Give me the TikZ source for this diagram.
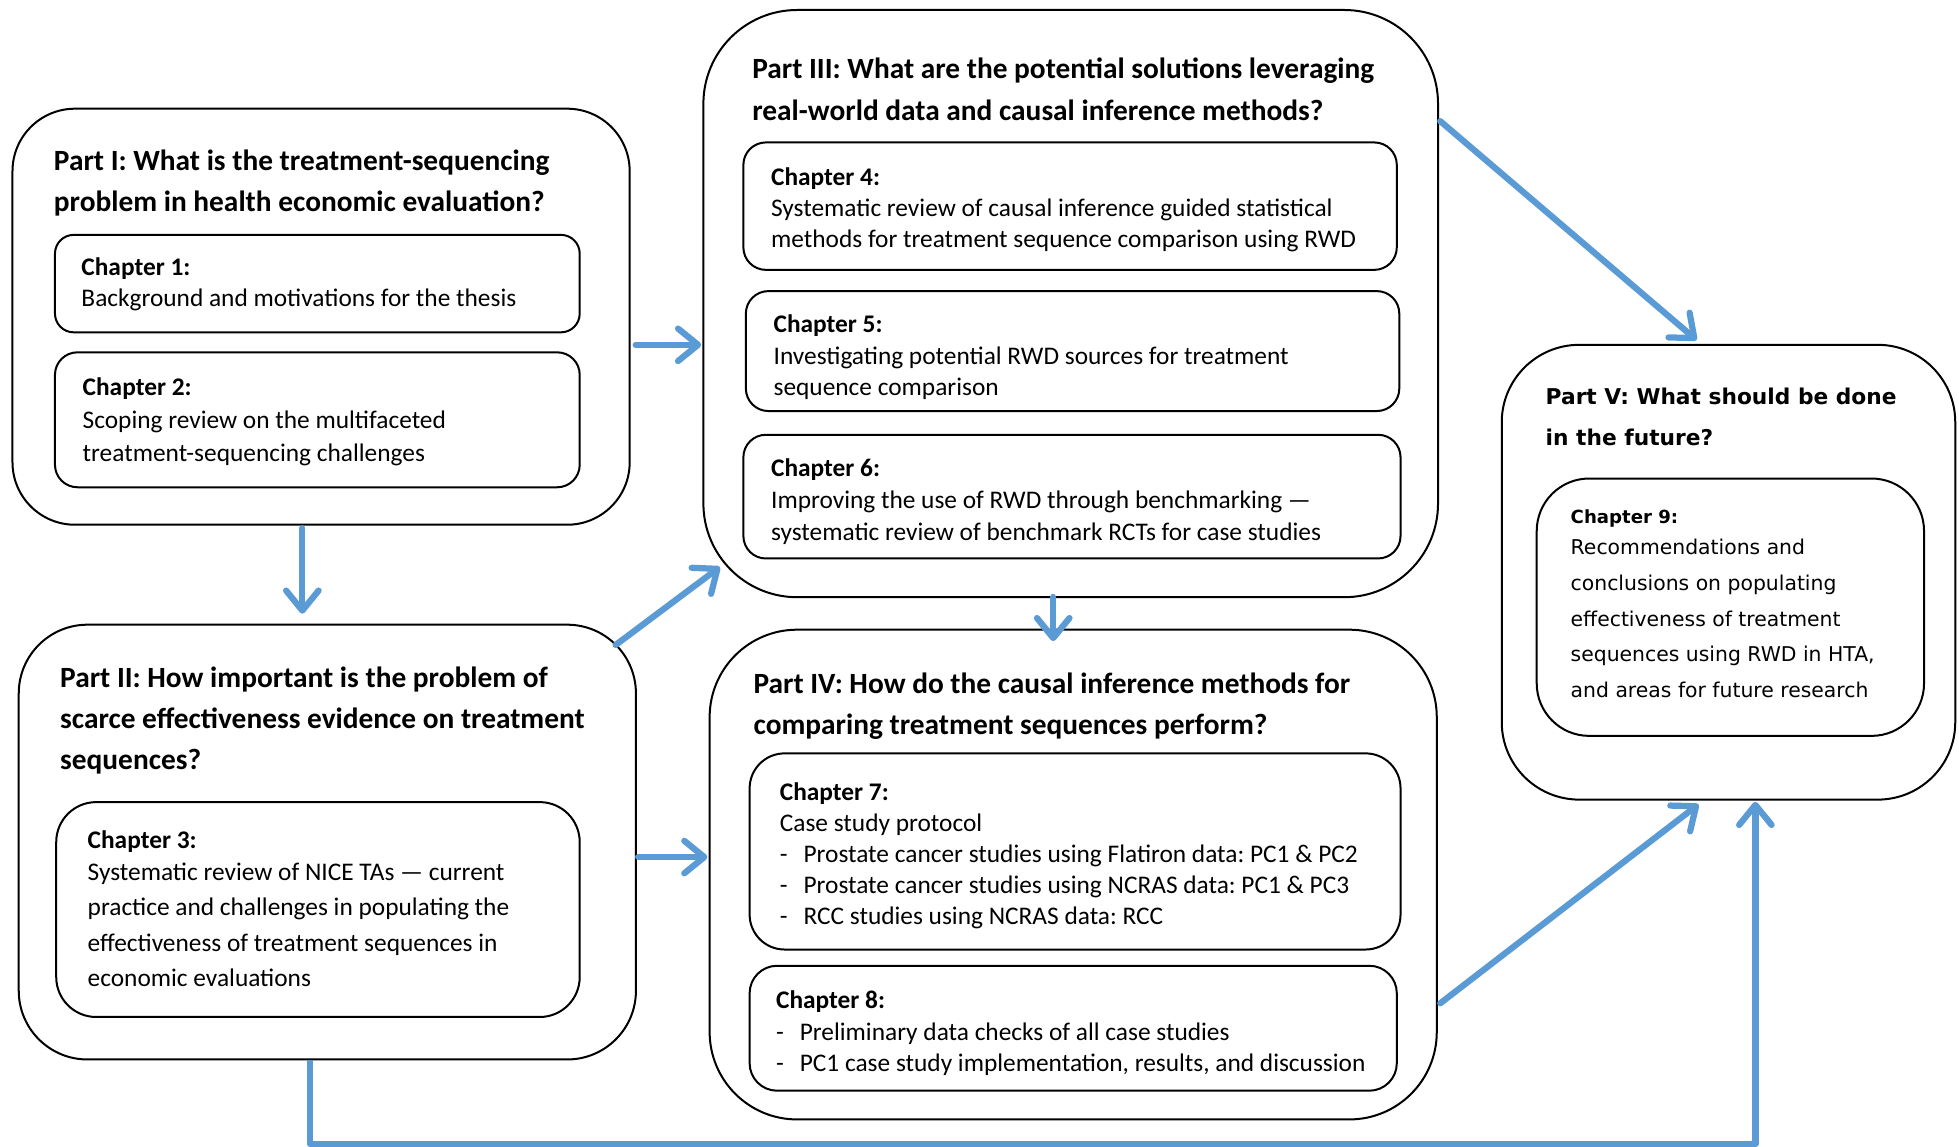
\documentclass[tikz,border=0pt]{standalone}
\usepackage{fontspec}
\setmainfont{Carlito}
\newfontfamily\wideface{DejaVu Sans}
\usetikzlibrary{arrows.meta,calc}
\definecolor{flowblue}{RGB}{91,155,213}
\frenchspacing
\begin{document}
\begin{tikzpicture}[x=1pt,y=-1pt,
  box/.style={draw=black,line width=1.6pt,inner sep=0pt,fill=none},
  ttl/.style={anchor=north west,inner sep=0pt,align=left,font=\fontsize{23.5}{33}\selectfont\bfseries},
  txt/.style={anchor=north west,inner sep=0pt,align=left,font=\fontsize{20.3}{25}\selectfont},
  ttlwide/.style={anchor=north west,inner sep=0pt,align=left,font=\wideface\fontsize{17.4}{33}\selectfont\bfseries},
  txtwide/.style={anchor=north west,inner sep=0pt,align=left,font=\wideface\fontsize{16.3}{28.5}\selectfont},
  flow/.style={draw=flowblue,line width=5pt,line cap=round,line join=round,
    -{Straight Barb[length=16pt,width=26pt,round]}},
]
\useasboundingbox (0,0) rectangle (1568,918);

% Part boxes
\node[box,minimum width=494pt,minimum height=333pt,rounded corners=50pt] (p1) at (257,253.5) {};
\node[box,minimum width=494pt,minimum height=348pt,rounded corners=55pt] (p2) at (262,674) {};
\node[box,minimum width=588pt,minimum height=470pt,rounded corners=75pt] (p3) at (857,243) {};
\node[box,minimum width=582pt,minimum height=392pt,rounded corners=70pt] (p4) at (859,700) {};
\node[box,minimum width=363pt,minimum height=364pt,rounded corners=62pt] (p5) at (1383.5,458) {};

% Chapter boxes
\node[box,minimum width=420pt,minimum height=78pt,rounded corners=15pt] (c1) at (254,227) {};
\node[box,minimum width=420pt,minimum height=108pt,rounded corners=18pt] (c2) at (254,336) {};
\node[box,minimum width=419pt,minimum height=172pt,rounded corners=32pt] (c3) at (254.5,728) {};
\node[box,minimum width=523pt,minimum height=102pt,rounded corners=18pt] (c4) at (856.5,165) {};
\node[box,minimum width=523pt,minimum height=96pt,rounded corners=18pt] (c5) at (858.5,281) {};
\node[box,minimum width=526pt,minimum height=99pt,rounded corners=18pt] (c6) at (858,397.5) {};
\node[box,minimum width=521pt,minimum height=157pt,rounded corners=28pt] (c7) at (860.5,681.5) {};
\node[box,minimum width=518pt,minimum height=100pt,rounded corners=22pt] (c8) at (859,823) {};
\node[box,minimum width=310pt,minimum height=206pt,rounded corners=42pt] (c9) at (1385,486) {};

% Part titles
\node[ttl] (t1) at (43,119.5) {Part I: What is the treatment-sequencing\\problem in health economic evaluation?};
\node[ttl] (t2) at (48,533.5) {Part II: How important is the problem of\\scarce effectiveness evidence on treatment\\sequences?};
\node[ttl] (t3) at (602,46.5) {Part III: What are the potential solutions leveraging\\real-world data and causal inference methods?};
\node[ttl] (t4) at (603,538.5) {Part IV: How do the causal inference methods for\\comparing treatment sequences perform?};
\node[ttlwide] (t5) at (1237,310) {Part V: What should be done\\in the future?};

% Chapter texts
\node[txt] (x1) at (65,206) {\textbf{Chapter 1:}\\Background and motivations for the thesis};
\node[txt,font=\fontsize{20.3}{26.5}\selectfont] (x2) at (66,302) {\textbf{Chapter 2:}\\Scoping review on the multifaceted\\treatment-sequencing challenges};
\node[txt,font=\fontsize{20.3}{28.5}\selectfont] (x3) at (70,665) {\textbf{Chapter 3:}\\[-3.5pt]Systematic review of NICE TAs \textemdash{} current\\practice and challenges in populating the\\effectiveness of treatment sequences in\\economic evaluations};
\node[txt] (x4) at (617,134) {\textbf{Chapter 4:}\\Systematic review of causal inference guided statistical\\methods for treatment sequence comparison using RWD};
\node[txt] (x5) at (619,252) {\textbf{Chapter 5:}\\Investigating potential RWD sources for treatment\\sequence comparison};
\node[txt,font=\fontsize{20.3}{25.5}\selectfont] (x6) at (617,367) {\textbf{Chapter 6:}\\Improving the use of RWD through benchmarking \textemdash\\systematic review of benchmark RCTs for case studies};
\node[txt,font=\fontsize{20.3}{24.8}\selectfont] (x7) at (624,626) {\textbf{Chapter 7:}\\Case study protocol\\
  \makebox[19pt][l]{-}Prostate cancer studies using Flatiron data: PC1 \& PC2\\
  \makebox[19pt][l]{-}Prostate cancer studies using NCRAS data: PC1 \& PC3\\
  \makebox[19pt][l]{-}RCC studies using NCRAS data: RCC};
\node[txt] (x8) at (621,793) {\textbf{Chapter 8:}\\
  \makebox[19pt][l]{-}Preliminary data checks of all case studies\\
  \makebox[19pt][l]{-}PC1 case study implementation, results, and discussion};
\node[txtwide] (x9) at (1257,408) {{\fontsize{14.5}{28.5}\selectfont\bfseries Chapter 9:}\\[-3.5pt]Recommendations and\\conclusions on populating\\effectiveness of treatment\\sequences using RWD in HTA,\\and areas for future research};

% Flow between parts
\draw[flow] ($(p1.east)+(4,22.5)$) -- ($(p3.west)+(-1,33)$);
\draw[flow] ($(p1.south)+(-15,2)$) -- ($(p2.north)+(-20,-8)$);
\draw[flow] ($(p2.north east)+(-17,17)$) -- ($(p3.south west)+(14,-25)$);
\draw[flow] ($(p2.east)+(1,12)$) -- ($(p4.west)+(-1,-14)$);
\draw[flow] ($(p3.south)+(-14,-1)$) -- ($(p4.north)+(-16,10)$);
\draw[flow] ($(p3.east)+(1,-146)$) -- ($(p5.north)+(-25.5,-3)$);
\draw[flow] ($(p4.east)+(2,103)$) -- ($(p5.south)+(-24,3)$);
\draw[flow,line cap=butt] ($(p2.south)+(-14,0)$) -- ++(0,67) -| ($(p5.south)+(21.5,1)$);
\end{tikzpicture}
\end{document}
